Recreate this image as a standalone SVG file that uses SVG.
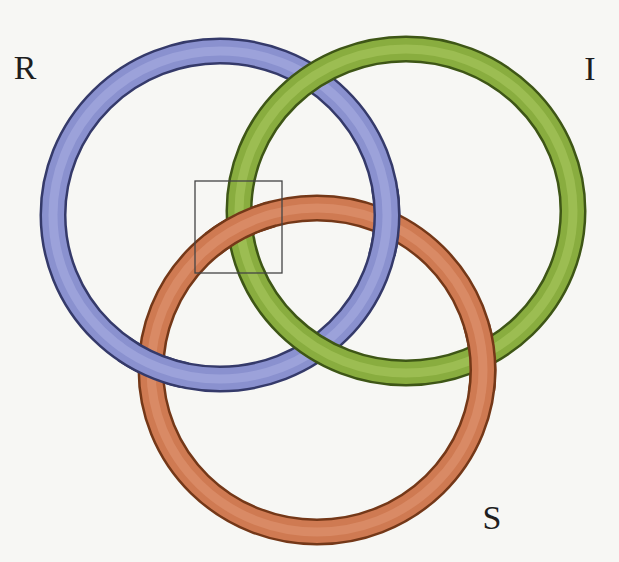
<svg xmlns="http://www.w3.org/2000/svg" xmlns:xlink="http://www.w3.org/1999/xlink" width="619" height="562" viewBox="0 0 619 562">
<style>
.lbl{font-family:"Liberation Serif","Times New Roman",serif;font-size:34px;fill:#1e1e1e;text-anchor:middle}
.edge{fill:none;stroke-width:27}
.body{fill:none;stroke-width:22}
.hi{fill:none;stroke-width:9}
.patch{opacity:0.999}
</style>
<defs>
<g id="blue">
<ellipse class="edge" cx="220" cy="215" rx="167" ry="164" stroke="#353a6a"/>
<ellipse class="body" cx="220" cy="215" rx="167" ry="164" stroke="#8a91cf"/>
<ellipse class="hi" cx="220" cy="215" rx="167" ry="164" stroke="#9ca2da"/>
</g>
<g id="green">
<ellipse class="edge" cx="406" cy="211" rx="167" ry="162" stroke="#3e5616"/>
<ellipse class="body" cx="406" cy="211" rx="167" ry="162" stroke="#89ad3f"/>
<ellipse class="hi" cx="406" cy="211" rx="167" ry="162" stroke="#9cbd52"/>
</g>
<g id="orange">
<ellipse class="edge" cx="317" cy="370" rx="166" ry="162" stroke="#743818"/>
<ellipse class="body" cx="317" cy="370" rx="166" ry="162" stroke="#cf7a52"/>
<ellipse class="hi" cx="317" cy="370" rx="166" ry="162" stroke="#d98a65"/>
</g>
<clipPath id="cbo1"><circle cx="153" cy="365" r="36"/></clipPath>
<clipPath id="cbo2"><circle cx="385" cy="222" r="36"/></clipPath>
<clipPath id="cog1"><circle cx="240" cy="226" r="36"/></clipPath>
<clipPath id="cog2"><circle cx="481" cy="358" r="36"/></clipPath>
</defs>
<rect width="619" height="562" fill="#f7f7f4"/>
<g id="ring-R"><use href="#blue"/></g>
<g id="ring-S"><use href="#orange"/></g>
<g id="ring-I"><use href="#green"/></g>
<g id="crossings">
<g class="patch" clip-path="url(#cbo1)"><use href="#blue"/></g>
<g class="patch" clip-path="url(#cbo2)"><use href="#blue"/></g>
<g class="patch" clip-path="url(#cog1)"><use href="#orange"/></g>
<g class="patch" clip-path="url(#cog2)"><use href="#orange"/></g>
</g>
<rect id="box" x="195" y="181" width="87" height="92" fill="none" stroke="#444" stroke-width="1.3"/>
<g id="labels">
<text class="lbl" x="25" y="79">R</text>
<text class="lbl" x="590" y="80">I</text>
<text class="lbl" x="492" y="529" fill="#333">S</text>
</g>
</svg>
